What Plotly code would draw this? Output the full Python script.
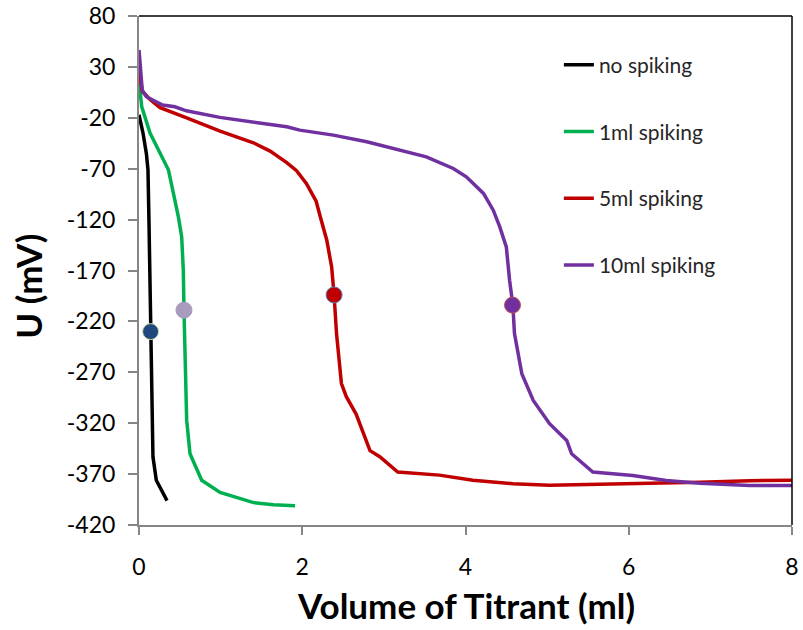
import plotly.graph_objects as go

# Titration curves: potential U (mV) versus volume of titrant (ml)
no_spike_x = [0, 0.049, 0.090, 0.110, 0.122, 0.142, 0.154, 0.171, 0.212, 0.273, 0.343]
no_spike_y = [-17, -35, -55, -71, -121, -219, -317, -353, -376, -386, -396]

spike1_x = [0, 0.033, 0.135, 0.258, 0.360, 0.421, 0.482, 0.523, 0.543, 0.551, 0.564,
            0.584, 0.625, 0.768, 0.993, 1.197, 1.402, 1.647, 1.912]
spike1_y = [17, -9, -35, -55, -71, -94, -117, -137, -170, -209, -252,
            -317, -350, -376, -388, -393, -398, -400, -401]

spike5_x = [0, 0.04, 0.135, 0.258, 0.584, 0.993, 1.402, 1.606, 1.81, 1.93, 2.05, 2.17,
            2.22, 2.30, 2.36, 2.39, 2.42, 2.48, 2.54, 2.66, 2.83, 2.95, 3.17, 3.68,
            4.09, 4.58, 5.03, 6.05, 6.87, 7.48, 8.0]
spike5_y = [27, 6, -2, -10, -20, -33, -44.5, -52.7, -64, -72, -84.5, -102,
            -117, -140, -166.5, -194, -232, -281, -294, -311, -347, -353, -368, -371,
            -376, -379.5, -381, -379.5, -378, -376.5, -376]

spike10_x = [0, 0.04, 0.09, 0.29, 0.44, 0.58, 0.99, 1.40, 1.81, 1.97, 2.22, 2.38, 2.79,
             3.19, 3.52, 3.85, 4.01, 4.22, 4.34, 4.42, 4.50, 4.54, 4.58, 4.60, 4.69,
             4.83, 5.03, 5.24, 5.30, 5.56, 6.05, 6.46, 6.87, 7.48, 8.0]
spike10_y = [46.6, 7, 0.7, -7.5, -9.2, -13.1, -19.6, -23.9, -28.8, -32.1, -35.4, -37, -43.6,
             -51.8, -58.3, -69.8, -78, -94.3, -110.8, -127.2, -146.8, -179.6, -204, -232, -271.3,
             -297.6, -320.5, -336.9, -350, -368, -371.3, -376.2, -378.9, -381.2, -381.2]

# Equivalence points marked on each curve
equiv_x = [0.142, 0.551, 2.39, 4.576]
equiv_y = [-230, -209, -194, -204]

series_names = ["no spiking", "1ml spiking", "5ml spiking", "10ml spiking"]
line_colors = ["#000000", "#00B050", "#C00000", "#7030A0"]
marker_fill = ["#1F497D", "#A99BBD", "#C00000", "#7030A0"]
marker_edge = ["#D8E0B0", "#A99BBD", "#4F81BD", "#C0504D"]

x_ticks = [0, 2, 4, 6, 8]
y_ticks = [80, 30, -20, -70, -120, -170, -220, -270, -320, -370, -420]

x_title = "Volume of Titrant (ml)"
y_title = "U (mV)"

curves = [(no_spike_x, no_spike_y), (spike1_x, spike1_y),
          (spike5_x, spike5_y), (spike10_x, spike10_y)]

fig = go.Figure()
for i, (xs, ys) in enumerate(curves):
    fig.add_trace(go.Scatter(
        x=xs, y=ys, mode="lines", name=series_names[i],
        legendgroup=series_names[i],
        line=dict(color=line_colors[i], width=3.5),
    ))
for i in range(4):
    fig.add_trace(go.Scatter(
        x=[equiv_x[i]], y=[equiv_y[i]], mode="markers", showlegend=False,
        marker=dict(size=16, color=marker_fill[i],
                    line=dict(color=marker_edge[i], width=1)),
    ))

axis_grey = "#868686"
fig.update_layout(
    width=803, height=630,
    margin=dict(l=139, r=11, t=16, b=105),
    paper_bgcolor="white", plot_bgcolor="white",
    font=dict(family="Lato, Calibri, sans-serif", color="#000000"),
    showlegend=True,
    legend=dict(
        x=0.643, y=0.944, xanchor="left", yanchor="top",
        bgcolor="rgba(0,0,0,0)", tracegroupgap=36.5,
        font=dict(size=21, color="#262626"),
    ),
    xaxis=dict(
        range=[0, 8], tickvals=x_ticks, ticktext=[str(v) for v in x_ticks],
        showgrid=False, zeroline=False, automargin=False,
        showline=True, linecolor=axis_grey, linewidth=2,
        ticks="outside", ticklen=8, tickcolor=axis_grey, tickwidth=2,
        tickfont=dict(size=23), ticklabelstandoff=12,
    ),
    yaxis=dict(
        range=[-420, 80], tickvals=y_ticks, ticktext=[str(v) for v in y_ticks],
        showgrid=False, zeroline=False, automargin=False,
        showline=True, linecolor=axis_grey, linewidth=2,
        ticks="outside", ticklen=9, tickcolor=axis_grey, tickwidth=2,
        tickfont=dict(size=23), ticklabelstandoff=8,
    ),
    annotations=[
        dict(text=f"<b>{x_title}</b>", xref="paper", yref="paper",
             x=0.5, y=-0.157, xanchor="center", yanchor="middle",
             showarrow=False, font=dict(size=35)),
        dict(text=f"<b>{y_title}</b>", xref="paper", yref="paper",
             x=-0.17, y=0.47, xanchor="center", yanchor="middle",
             textangle=-90, showarrow=False, font=dict(size=35)),
    ],
    shapes=[
        dict(type="line", xref="paper", yref="paper", x0=0, x1=1, y0=1, y1=1,
             line=dict(color="#000000", width=1.5)),
        dict(type="line", xref="paper", yref="paper", x0=1, x1=1, y0=0, y1=1,
             line=dict(color="#000000", width=1.5)),
    ],
)

fig.write_html("out.html")
